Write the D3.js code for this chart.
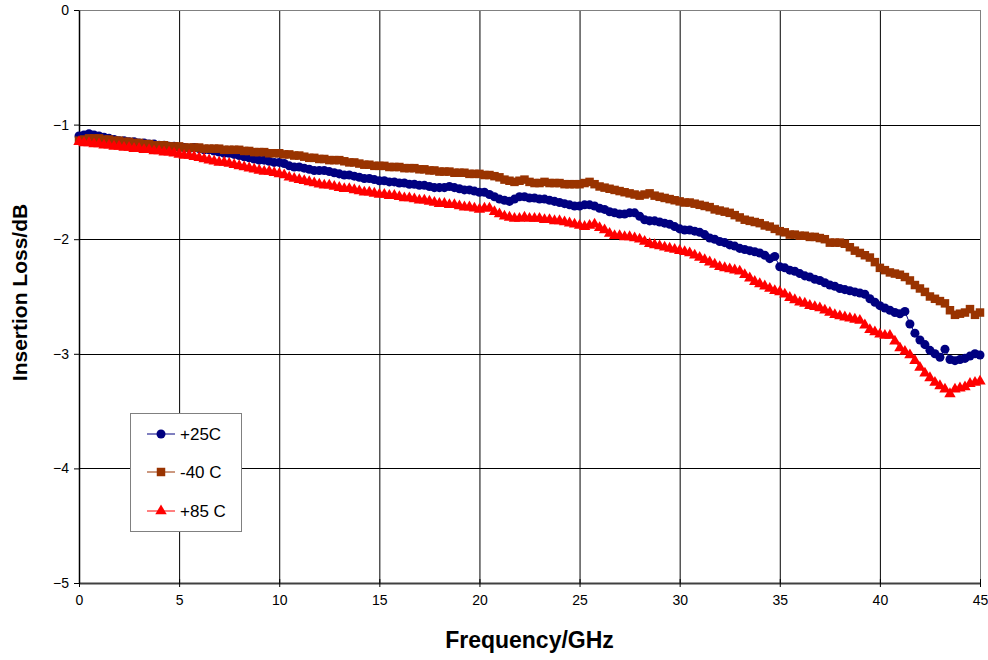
<!DOCTYPE html>
<html><head><meta charset="utf-8">
<script src="https://cdn.jsdelivr.net/npm/d3@7/dist/d3.min.js"></script>
<style>body{margin:0;background:#fff;} svg{display:block;font-family:Arial,"Liberation Sans",sans-serif;}</style>
</head><body>
<svg id="chart" width="988" height="660"></svg>
<script>
const freqStep = 0.25;
const xTicks = [0,5,10,15,20,25,30,35,40,45];
const yTicks = [0,-1,-2,-3,-4,-5];
const seriesNames = ["+25C","-40 C","+85 C"];
const plus25 = [
-1.10,-1.09,-1.08,-1.09, -1.10,-1.11,-1.12,-1.13, -1.14,-1.14,-1.15,-1.15, -1.16,-1.16,-1.17,-1.17,
-1.18,-1.18,-1.19,-1.19, -1.20,-1.20,-1.21,-1.20, -1.21,-1.22,-1.22,-1.23, -1.24,-1.25,-1.25,-1.26,
-1.27,-1.28,-1.29,-1.30, -1.31,-1.31,-1.32,-1.33, -1.33,-1.34,-1.36,-1.37, -1.37,-1.38,-1.39,-1.40,
-1.40,-1.40,-1.41,-1.42, -1.43,-1.44,-1.44,-1.45, -1.46,-1.47,-1.47,-1.48, -1.49,-1.49,-1.50,-1.50,
-1.51,-1.51,-1.52,-1.52, -1.53,-1.53,-1.54,-1.55, -1.55,-1.55,-1.54,-1.55, -1.56,-1.57,-1.57,-1.58,
-1.59,-1.59,-1.61,-1.63, -1.65,-1.66,-1.67,-1.65, -1.63,-1.63,-1.64,-1.64, -1.65,-1.65,-1.66,-1.67,
-1.68,-1.69,-1.70,-1.71, -1.71,-1.70,-1.70,-1.71, -1.73,-1.74,-1.76,-1.77, -1.78,-1.78,-1.77,-1.77,
-1.80,-1.83,-1.84,-1.84, -1.85,-1.86,-1.87,-1.89, -1.91,-1.92,-1.92,-1.93, -1.94,-1.96,-1.99,-2.00,
-2.02,-2.03,-2.05,-2.06, -2.08,-2.09,-2.10,-2.11, -2.12,-2.14,-2.17,-2.15, -2.24,-2.25,-2.27,-2.28,
-2.30,-2.32,-2.33,-2.35, -2.36,-2.38,-2.40,-2.41, -2.43,-2.44,-2.45,-2.46, -2.47,-2.48,-2.52,-2.55,
-2.58,-2.60,-2.62,-2.64, -2.65,-2.63,-2.74,-2.82, -2.88,-2.92,-2.97,-3.00, -3.03,-2.96,-3.05,-3.06,
-3.05,-3.04,-3.02,-3.00, -3.01];
const minus40 = [
-1.14,-1.13,-1.12,-1.12, -1.12,-1.13,-1.13,-1.14, -1.14,-1.15,-1.15,-1.16, -1.16,-1.17,-1.17,-1.18,
-1.18,-1.18,-1.19,-1.19, -1.19,-1.20,-1.20,-1.20, -1.20,-1.21,-1.21,-1.21, -1.21,-1.22,-1.22,-1.22,
-1.22,-1.23,-1.23,-1.24, -1.24,-1.24,-1.25,-1.25, -1.25,-1.26,-1.26,-1.27, -1.27,-1.28,-1.29,-1.29,
-1.30,-1.30,-1.31,-1.31, -1.31,-1.32,-1.33,-1.33, -1.34,-1.35,-1.35,-1.36, -1.36,-1.36,-1.37,-1.37,
-1.37,-1.38,-1.38,-1.38, -1.39,-1.39,-1.40,-1.40, -1.41,-1.41,-1.41,-1.42, -1.42,-1.42,-1.43,-1.43,
-1.43,-1.44,-1.44,-1.45, -1.46,-1.48,-1.49,-1.50, -1.49,-1.48,-1.50,-1.51, -1.51,-1.50,-1.51,-1.51,
-1.51,-1.52,-1.52,-1.52, -1.52,-1.51,-1.50,-1.52, -1.54,-1.55,-1.56,-1.57, -1.58,-1.59,-1.60,-1.61,
-1.62,-1.61,-1.60,-1.62, -1.63,-1.64,-1.65,-1.66, -1.67,-1.68,-1.68,-1.69, -1.70,-1.71,-1.72,-1.74,
-1.75,-1.76,-1.77,-1.79, -1.81,-1.83,-1.84,-1.85, -1.86,-1.88,-1.89,-1.91, -1.93,-1.94,-1.96,-1.96,
-1.97,-1.97,-1.98,-1.98, -1.99,-2.00,-2.03,-2.03, -2.03,-2.04,-2.07,-2.10, -2.12,-2.14,-2.16,-2.20,
-2.25,-2.27,-2.29,-2.30, -2.31,-2.33,-2.36,-2.40, -2.43,-2.46,-2.50,-2.52, -2.54,-2.56,-2.62,-2.66,
-2.65,-2.64,-2.61,-2.66, -2.64];
const plus85 = [
-1.15,-1.16,-1.16,-1.17, -1.17,-1.18,-1.18,-1.19, -1.19,-1.20,-1.20,-1.21, -1.21,-1.22,-1.22,-1.23,
-1.23,-1.24,-1.24,-1.25, -1.26,-1.27,-1.27,-1.28, -1.29,-1.30,-1.31,-1.32, -1.33,-1.33,-1.34,-1.35,
-1.36,-1.37,-1.38,-1.39, -1.40,-1.41,-1.41,-1.42, -1.43,-1.44,-1.46,-1.47, -1.48,-1.49,-1.50,-1.51,
-1.52,-1.53,-1.53,-1.54, -1.55,-1.56,-1.56,-1.57, -1.58,-1.59,-1.59,-1.60, -1.61,-1.61,-1.62,-1.62,
-1.63,-1.64,-1.64,-1.65, -1.66,-1.66,-1.67,-1.68, -1.69,-1.69,-1.70,-1.70, -1.71,-1.72,-1.72,-1.73,
-1.74,-1.73,-1.73,-1.76, -1.78,-1.80,-1.81,-1.82, -1.82,-1.81,-1.82,-1.82, -1.82,-1.83,-1.83,-1.84,
-1.84,-1.85,-1.86,-1.87, -1.88,-1.89,-1.88,-1.87, -1.90,-1.92,-1.95,-1.97, -1.97,-1.98,-1.98,-1.99,
-2.00,-2.02,-2.04,-2.05, -2.06,-2.07,-2.08,-2.09, -2.10,-2.11,-2.12,-2.14, -2.16,-2.18,-2.20,-2.22,
-2.24,-2.25,-2.26,-2.27, -2.28,-2.31,-2.34,-2.37, -2.39,-2.41,-2.43,-2.45, -2.46,-2.48,-2.51,-2.53,
-2.55,-2.56,-2.58,-2.59, -2.60,-2.62,-2.64,-2.66, -2.67,-2.68,-2.69,-2.70, -2.71,-2.75,-2.79,-2.81,
-2.83,-2.84,-2.84,-2.89, -2.95,-2.98,-3.01,-3.06, -3.12,-3.17,-3.21,-3.25, -3.28,-3.31,-3.35,-3.31,
-3.30,-3.29,-3.26,-3.25, -3.24];

const colors = ["#000080","#993300","#FF0000"];
const symbols = [d3.symbolCircle, d3.symbolSquare, d3.symbolTriangle];
const symSizes = [64, 72, 56];
const allSeries = [plus25, minus40, plus85];

const svg = d3.select("#chart");
const m = {left:79, top:10, right:980, bottom:583};
const x = d3.scaleLinear().domain([0,45]).range([m.left, m.right]);
const y = d3.scaleLinear().domain([-5,0]).range([m.bottom, m.top]);
const FONT = "Arial, 'Liberation Sans', sans-serif";

// gridlines
svg.append("g").selectAll("line.vg").data(xTicks.slice(1,-1)).join("line")
  .attr("x1",d=>x(d)+0.5).attr("x2",d=>x(d)+0.5).attr("y1",m.top).attr("y2",m.bottom)
  .attr("stroke","#000").attr("stroke-width",1);
svg.append("g").selectAll("line.hg").data(yTicks.slice(1,-1)).join("line")
  .attr("y1",d=>Math.round(y(d))+0.5).attr("y2",d=>Math.round(y(d))+0.5).attr("x1",m.left).attr("x2",m.right)
  .attr("stroke","#000").attr("stroke-width",1);
// frame top/right
svg.append("line").attr("x1",m.left).attr("x2",m.right).attr("y1",m.top+0.5).attr("y2",m.top+0.5).attr("stroke","#808080");
svg.append("line").attr("x1",m.right+0.5).attr("x2",m.right+0.5).attr("y1",m.top).attr("y2",m.bottom).attr("stroke","#808080");

// axes
const xAxis = d3.axisBottom(x).tickValues(xTicks).tickSize(4).tickSizeOuter(0).tickPadding(8);
const gx = svg.append("g").attr("transform",`translate(0,${m.bottom})`).call(xAxis);
gx.select(".domain").attr("stroke","#404040").attr("stroke-width",2);
gx.selectAll(".tick line").attr("stroke","#000").attr("y1",-4);
gx.selectAll("text").attr("font-size","14px").attr("fill","#000").attr("font-family",FONT);

const yAxis = d3.axisLeft(y).tickValues(yTicks).tickSize(5).tickSizeOuter(0).tickPadding(5).tickFormat(d3.format("d"));
const gy = svg.append("g").attr("transform",`translate(${m.left},0)`).call(yAxis);
gy.select(".domain").attr("stroke","#000").attr("stroke-width",1.5);
gy.selectAll(".tick line").attr("stroke","#000");
gy.selectAll("text").attr("font-size","14px").attr("fill","#000").attr("font-family",FONT);

// series
const line = d3.line().x((d,i)=>x(i*freqStep)).y(d=>y(d));
allSeries.forEach((vals,k)=>{
  const g = svg.append("g");
  g.append("path").datum(vals).attr("d",line).attr("fill","none").attr("stroke",colors[k]).attr("stroke-width",1);
  g.selectAll("path.m").data(vals).join("path")
    .attr("transform",(d,i)=>`translate(${x(i*freqStep)},${y(d)})`)
    .attr("d",d3.symbol().type(symbols[k]).size(symSizes[k]))
    .attr("fill",colors[k]);
});

// axis titles
svg.append("text").attr("x",(m.left+m.right)/2).attr("y",648).attr("text-anchor","middle")
  .attr("font-size","23px").attr("font-weight","bold").attr("font-family",FONT).text("Frequency/GHz");
svg.append("text").attr("transform",`translate(27,${(m.top+m.bottom)/2 - 4}) rotate(-90)`).attr("text-anchor","middle")
  .attr("font-size","21px").attr("font-weight","bold").attr("font-family",FONT).text("Insertion Loss/dB");

// legend
const lg = svg.append("g");
lg.append("rect").attr("x",130.5).attr("y",413.5).attr("width",111).attr("height",118)
  .attr("fill","#fff").attr("stroke","#808080").attr("stroke-width",1);
const legY = [434,472,511];
seriesNames.forEach((n,k)=>{
  lg.append("line").attr("x1",147).attr("x2",175).attr("y1",legY[k]).attr("y2",legY[k]).attr("stroke",colors[k]);
  lg.append("path").attr("transform",`translate(161,${legY[k]})`).attr("d",d3.symbol().type(symbols[k]).size(symSizes[k])).attr("fill",colors[k]);
  lg.append("text").attr("x",180).attr("y",legY[k]+6).attr("font-size","17px").attr("font-family",FONT).text(n);
});
</script>
</body></html>
